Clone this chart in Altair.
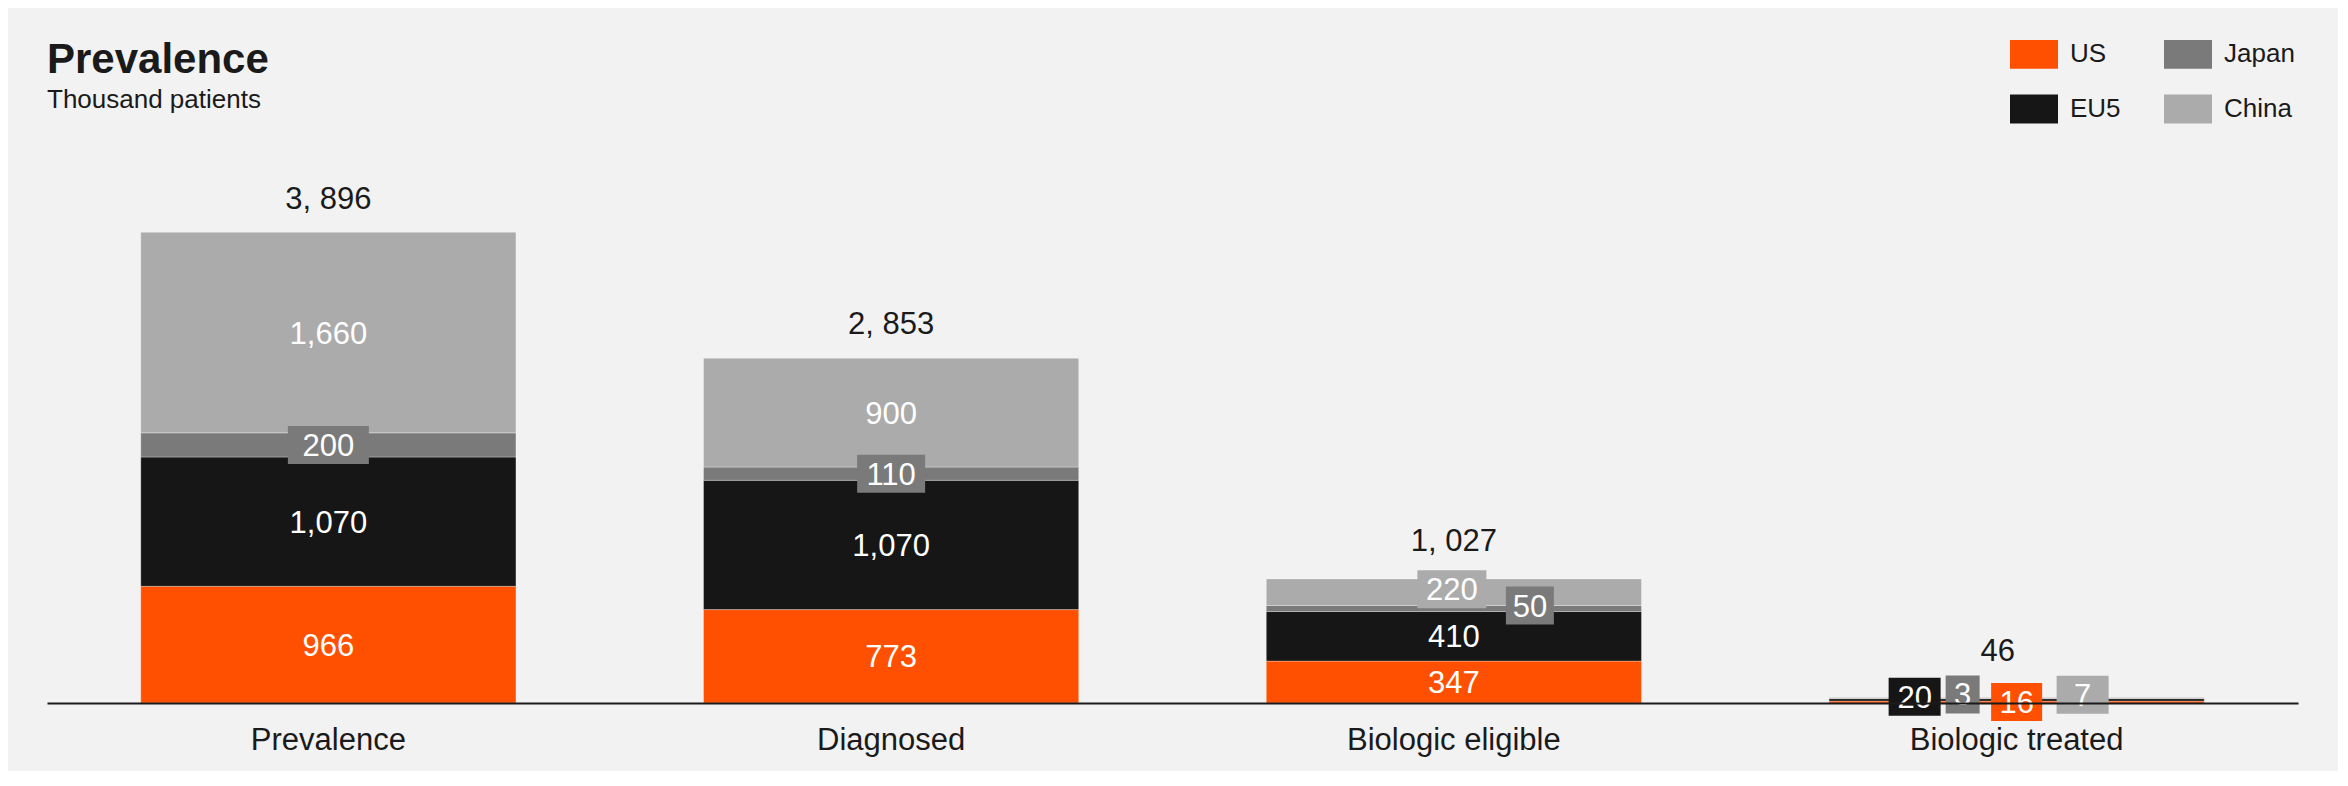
import altair as alt
import pandas as pd

# ---------------- data ----------------
title_text = "Prevalence"
subtitle_text = "Thousand patients"
categories = ["Prevalence", "Diagnosed", "Biologic eligible", "Biologic treated"]
regions = ["US", "EU5", "Japan", "China"]
us = [966, 773, 347, 16]
eu5 = [1070, 1070, 410, 20]
japan = [200, 110, 50, 3]
china = [1660, 900, 220, 7]

# ---------------- style ----------------
FONT = "Liberation Sans"
TEXT = "#1a1a1a"
colors = {"US": "#ff4f00", "EU5": "#161616", "Japan": "#7a7a7a", "China": "#ababab"}
legend_order = ["US", "EU5", "Japan", "China"]

# label boxes: (dx px, dy px, box width px)
boxed = {
    ("Prevalence", "Japan"): (0, 0, 81),
    ("Diagnosed", "Japan"): (0, 0, 68),
    ("Biologic eligible", "China"): (-2, -3, 69),
    ("Biologic eligible", "Japan"): (76, -3, 48),
    ("Biologic treated", "EU5"): (-102, -3, 52),
    ("Biologic treated", "Japan"): (-54, -4, 34),
    ("Biologic treated", "US"): (0, 0, 51),
    ("Biologic treated", "China"): (66, -3, 52),
}
total_offsets = {
    "Prevalence": (0, -23),
    "Diagnosed": (0, -24),
    "Biologic eligible": (0, -28),
    "Biologic treated": (-19, -36),
}

W = 2251
H = 563
PX_PER_UNIT = 0.12082
D = H / PX_PER_UNIT
BOX_H = 38

# ---------------- tables ----------------
series = {"US": us, "EU5": eu5, "Japan": japan, "China": china}
rows = []
for ci, c in enumerate(categories):
    for ri, r in enumerate(regions):
        rows.append({"category": c, "region": r, "value": series[r][ci], "ord": ri,
                     "boxed": (c, r) in boxed})
df = pd.DataFrame(rows)

totals = pd.DataFrame({
    "category": categories,
    "total": [sum(series[r][i] for r in regions) for i in range(len(categories))],
})
totals["label"] = totals["total"].map(lambda v: f"{v:,}".replace(",", ", "))

# ---------------- encodings ----------------
x_enc = alt.X(
    "category:N", sort=categories,
    scale=alt.Scale(paddingInner=1 / 3, paddingOuter=1 / 6),
    axis=alt.Axis(title=None, ticks=False, labelFontSize=31, labelColor=TEXT, labelFont=FONT,
                  labelPadding=22, labelLimit=0, domainColor=TEXT, domainWidth=2, labelAngle=0,
                  zindex=1, grid=False),
)
y_scale = alt.Scale(domain=[0, D], nice=False, zero=True)

base = alt.Chart(df).transform_stack(
    stack="value", groupby=["category"], as_=["y0", "y1"],
    sort=[alt.SortField("ord", order="ascending")],
).transform_calculate(mid="(datum.y0 + datum.y1) / 2")

bars = base.mark_bar(stroke="#ffffff", strokeOpacity=0.3, strokeWidth=1).encode(
    x=x_enc,
    y=alt.Y("y0:Q", scale=y_scale, axis=None),
    y2="y1:Q",
    color=alt.Color(
        "region:N",
        scale=alt.Scale(domain=legend_order, range=[colors[r] for r in legend_order]),
        legend=alt.Legend(
            title=None, orient="none", legendX=1963, legendY=-110, columns=2,
            symbolType="M-1,-0.6H1V0.6H-1Z", symbolSize=2304, symbolStrokeWidth=0,
            symbolOpacity=1, labelFontSize=26, labelFont=FONT, labelColor=TEXT,
            labelOffset=12, columnPadding=43, rowPadding=16, padding=0,
        ),
    ),
)

plain_labels = base.transform_filter(alt.datum.boxed == False).mark_text(
    font=FONT, fontSize=31, color="white", baseline="middle", dy=2
).encode(
    x=x_enc,
    y=alt.Y("mid:Q", scale=y_scale, axis=None),
    text=alt.Text("value:Q", format=","),
)

layers = [bars, plain_labels]

for (c, r), (dx, dy, w) in boxed.items():
    sel = base.transform_filter((alt.datum.category == c) & (alt.datum.region == r))
    box = sel.mark_bar(
        width=w, xOffset=dx, yOffset=dy - BOX_H / 2, y2Offset=dy + BOX_H / 2,
        color=colors[r],
    ).encode(
        x=x_enc,
        y=alt.Y("mid:Q", scale=y_scale, axis=None),
        y2="mid:Q",
    )
    txt = sel.mark_text(
        font=FONT, fontSize=31, color="white", baseline="middle", dx=dx, dy=dy + 2
    ).encode(
        x=x_enc,
        y=alt.Y("mid:Q", scale=y_scale, axis=None),
        text=alt.Text("value:Q", format=","),
    )
    layers += [box, txt]

for c, (dx, dy) in total_offsets.items():
    t = alt.Chart(totals).transform_filter(alt.datum.category == c).mark_text(
        font=FONT, fontSize=31, color=TEXT, baseline="alphabetic", dx=dx, dy=dy
    ).encode(
        x=x_enc,
        y=alt.Y("total:Q", scale=y_scale, axis=None),
        text="label:N",
    )
    layers.append(t)

# title and subtitle as text marks (top-left)
title_df = pd.DataFrame({"t": [title_text]})
subtitle_df = pd.DataFrame({"t": [subtitle_text]})
title_mark = alt.Chart(title_df).mark_text(
    font=FONT, fontSize=42, fontWeight="bold", color=TEXT, align="left", baseline="alphabetic"
).encode(x=alt.value(0), y=alt.value(-67), text="t:N")
subtitle_mark = alt.Chart(subtitle_df).mark_text(
    font=FONT, fontSize=26, color=TEXT, align="left", baseline="alphabetic"
).encode(x=alt.value(0), y=alt.value(-32), text="t:N")
layers += [title_mark, subtitle_mark]

chart = alt.layer(*layers).properties(
    width=W,
    height=H,
    background="#f2f2f2",
    autosize=alt.AutoSizeParams(type="none"),
    padding={"left": 39, "top": 132, "right": 40, "bottom": 68},
).configure_view(stroke=None)

chart.save("out.html", embed_options={"renderer": "svg", "actions": False})
